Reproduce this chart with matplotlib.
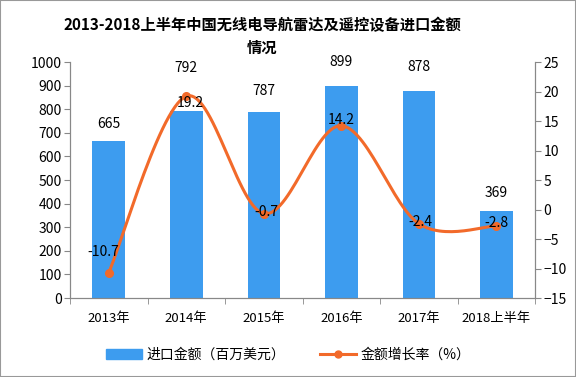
import numpy as np
import matplotlib.pyplot as plt
from matplotlib.lines import Line2D
from matplotlib.patches import Patch, Rectangle

plt.rcParams["font.family"] = ["Noto Sans CJK SC", "DejaVu Sans"]

# data
categories = ["2013年", "2014年", "2015年", "2016年", "2017年", "2018上半年"]
import_value = [665, 792, 787, 899, 878, 369]
growth_rate = [-10.7, 19.2, -0.7, 14.2, -2.4, -2.8]

bar_color = "#3D9CEF"
line_color = "#F26A2A"
axis_color = "#888888"


def smooth_curve(x, y, steps=30):
    # Catmull-Rom style smoothing like the spreadsheet "smooth line"
    x = np.asarray(x, float)
    y = np.asarray(y, float)
    px = np.concatenate([[x[0]], x, [x[-1]]])
    py = np.concatenate([[y[0]], y, [y[-1]]])
    xs, ys = [], []
    for i in range(1, len(px) - 2):
        p0, p1, p2, p3 = (np.array([px[j], py[j]]) for j in range(i - 1, i + 3))
        c1 = p1 + (p2 - p0) / 6
        c2 = p2 - (p3 - p1) / 6
        t = np.linspace(0, 1, steps)[:, None]
        pts = ((1 - t) ** 3) * p1 + 3 * ((1 - t) ** 2) * t * c1 + 3 * (1 - t) * t ** 2 * c2 + t ** 3 * p2
        xs.extend(pts[:, 0])
        ys.extend(pts[:, 1])
    return np.array(xs), np.array(ys)


fig = plt.figure(figsize=(5.76, 3.77), dpi=100)
ax = fig.add_axes([0.1215, 0.2095, 0.8075, 0.626])
ax2 = ax.twinx()

x = np.arange(len(categories))
ax.bar(x, import_value, width=0.42, color=bar_color, zorder=2)
# label offsets in points (the 792 label sits higher to clear the line label)
bar_offsets = [12, 31, 15, 17, 17, 13]
for xi, v, off in zip(x, import_value, bar_offsets):
    ax.annotate(str(v), (xi, v), xytext=(0, off), textcoords="offset points",
                ha="center", va="center", fontsize=10)

sx, sy = smooth_curve(x, growth_rate)
ax2.plot(sx, sy, color=line_color, lw=2.2, zorder=3)
ax2.plot(x, growth_rate, "o", color=line_color, ms=5.5, zorder=4)
offsets = [(-4, 15), (3, -5), (2, 1), (0, 4), (1, 1), (0, 2)]
for xi, v, off in zip(x, growth_rate, offsets):
    ax2.annotate(f"{v}", (xi, v), xytext=off, textcoords="offset points",
                 ha="center", va="center", fontsize=10, zorder=5)

ax.set_xlim(-0.5, len(categories) - 0.5)
ax.set_ylim(0, 1000)
ax.set_yticks(range(0, 1001, 100))
ax2.set_ylim(-15, 25)
ax2.set_yticks(range(-15, 26, 5))

ax.set_xticks(x)
ax.set_xticklabels(categories, fontsize=9.5)
ax.set_xticks(np.arange(-0.5, len(categories)), minor=True)
ax.tick_params(axis="x", which="major", length=0, pad=10)
ax.tick_params(axis="x", which="minor", length=4, color=axis_color)
ax.tick_params(axis="y", length=4, color=axis_color, labelsize=10, pad=2)
ax2.tick_params(axis="y", length=4, color=axis_color, labelsize=10, pad=2)

for a in (ax, ax2):
    a.spines["top"].set_visible(False)
    for s in ("left", "right", "bottom"):
        a.spines[s].set_color(axis_color)

fig.text(0.455, 0.903, "2013-2018上半年中国无线电导航雷达及遥控设备进口金额\n情况",
         ha="center", va="center", fontsize=11, fontweight="bold",
         linespacing=1.5)

handles = [Patch(color=bar_color),
           Line2D([0], [0], color=line_color, lw=2.2, marker="o", ms=5)]
fig.legend(handles, ["进口金额（百万美元）", "金额增长率（%）"], loc="center",
           bbox_to_anchor=(0.5, 0.058), ncol=2, frameon=False, fontsize=10,
           handlelength=2.6, columnspacing=2.5, handletextpad=0.3)

fig.add_artist(Rectangle((0, 0), 1, 1, transform=fig.transFigure, fill=False,
                         edgecolor="#999999", lw=1.5))

fig.savefig("out.png", dpi=100)
